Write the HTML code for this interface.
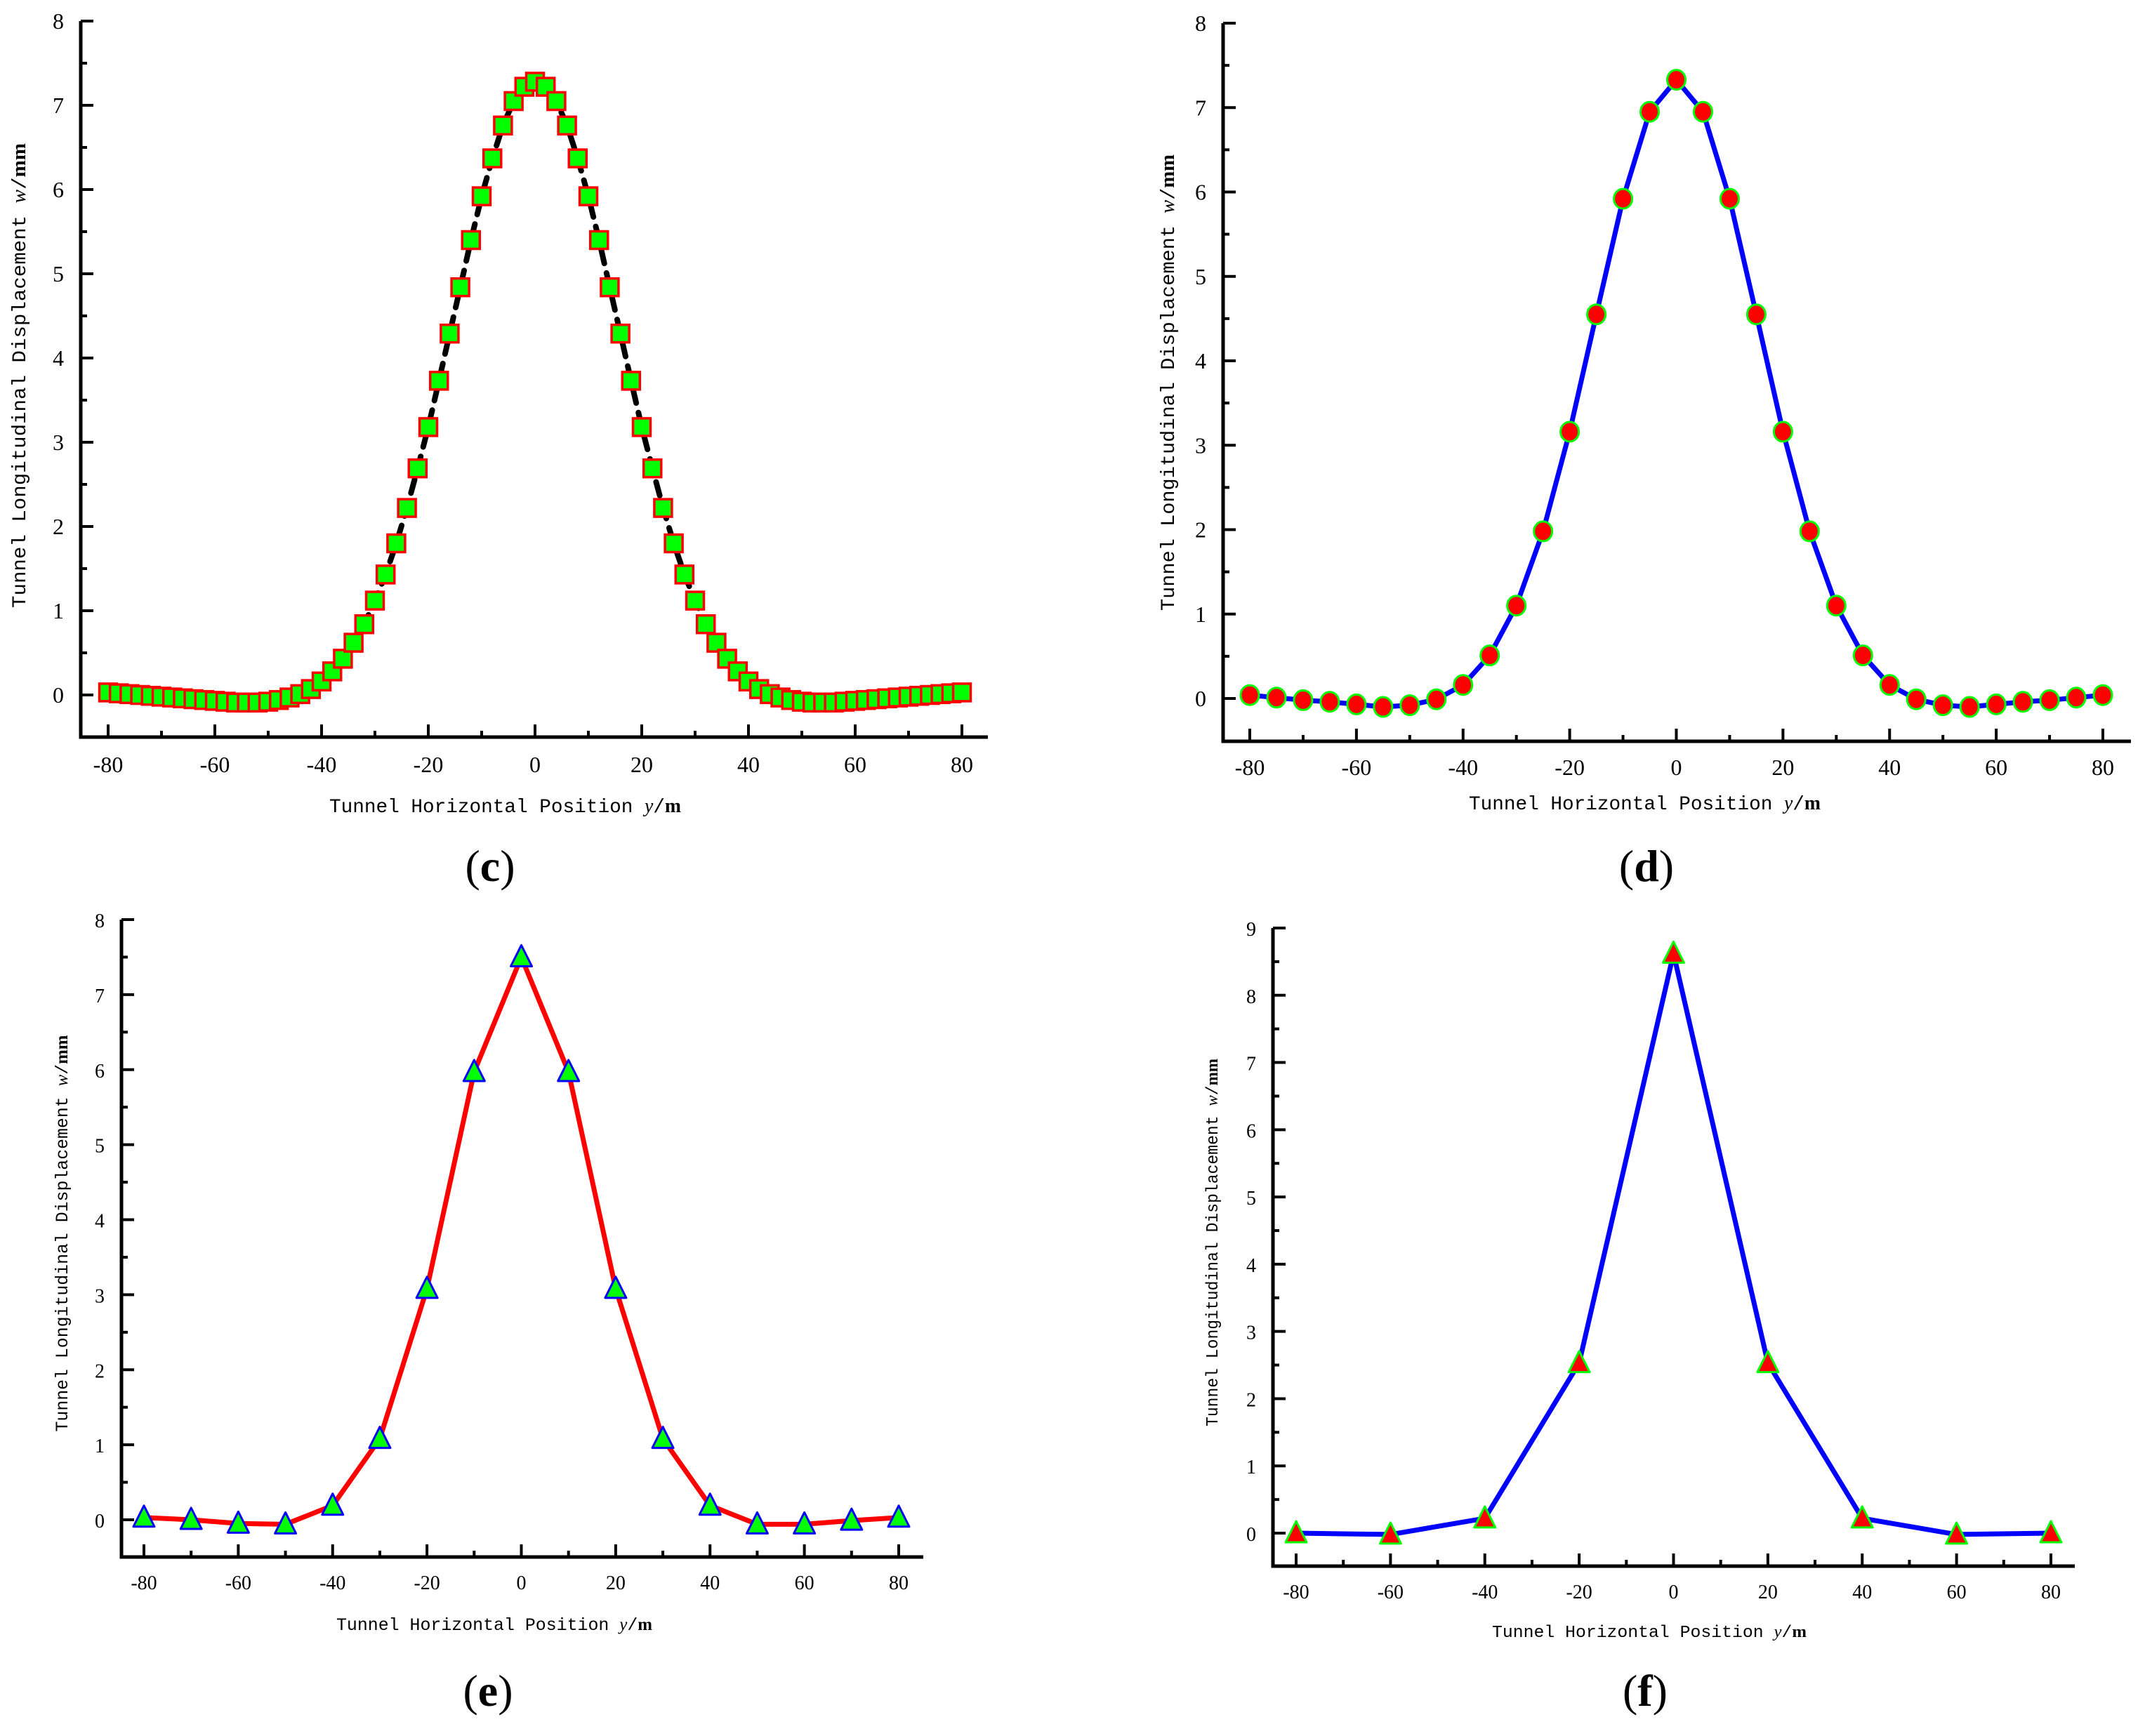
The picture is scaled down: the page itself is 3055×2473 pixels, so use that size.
<!DOCTYPE html>
<html><head><meta charset="utf-8"><style>
html,body{margin:0;padding:0;background:#fff;}
svg{display:block;}
</style></head><body>
<svg id="fig" xmlns="http://www.w3.org/2000/svg" width="3055" height="2473" viewBox="0 0 3055 2473">
<rect x="0" y="0" width="3055" height="2473" fill="#fff"/>
</svg>
<script>
// ---- data ----
const xC = [-80,-78,-76,-74,-72,-70,-68,-66,-64,-62,-60,-58,-56,-54,-52,-50,-48,-46,-44,-42,-40,-38,-36,-34,-32,-30,-28,-26,-24,-22,-20,-18,-16,-14,-12,-10,-8,-6,-4,-2,0,2,4,6,8,10,12,14,16,18,20,22,24,26,28,30,32,34,36,38,40,42,44,46,48,50,52,54,56,58,60,62,64,66,68,70,72,74,76,78,80];
const yC = [0.03,0.02,0.01,0.0,-0.01,-0.02,-0.03,-0.04,-0.05,-0.06,-0.07,-0.08,-0.09,-0.09,-0.09,-0.08,-0.06,-0.03,0.01,0.07,0.16,0.28,0.43,0.62,0.84,1.12,1.43,1.80,2.22,2.69,3.18,3.73,4.29,4.84,5.40,5.92,6.37,6.76,7.05,7.22,7.28,7.22,7.05,6.76,6.37,5.92,5.40,4.84,4.29,3.73,3.18,2.69,2.22,1.80,1.43,1.12,0.84,0.62,0.43,0.28,0.16,0.07,0.01,-0.03,-0.06,-0.08,-0.09,-0.09,-0.09,-0.08,-0.07,-0.06,-0.05,-0.04,-0.03,-0.02,-0.01,0.0,0.01,0.02,0.03];
const xD = [-80,-75,-70,-65,-60,-55,-50,-45,-40,-35,-30,-25,-20,-15,-10,-5,0,5,10,15,20,25,30,35,40,45,50,55,60,65,70,75,80];
const yD = [0.04,0.01,-0.02,-0.04,-0.07,-0.10,-0.08,-0.01,0.16,0.51,1.10,1.98,3.16,4.55,5.92,6.95,7.33,6.95,5.92,4.55,3.16,1.98,1.10,0.51,0.16,-0.01,-0.08,-0.10,-0.07,-0.04,-0.02,0.01,0.04];
const xE = [-80,-70,-60,-50,-40,-30,-20,-10,0,10,20,30,40,50,60,70,80];
const yE = [0.03,0.0,-0.05,-0.06,0.19,1.08,3.08,5.97,7.50,5.97,3.08,1.08,0.19,-0.06,-0.06,-0.01,0.03];
const xF = [-80,-60,-40,-20,0,20,40,60,80];
const yF = [0.0,-0.02,0.22,2.53,8.62,2.53,0.22,-0.02,0.0];
const xTicks = [-80,-60,-40,-20,0,20,40,60,80];
const yTicks8 = [0,1,2,3,4,5,6,7,8];
const yTicks9 = [0,1,2,3,4,5,6,7,8,9];

const NS = "http://www.w3.org/2000/svg";
const svg = document.getElementById('fig');
function el(tag, attrs, parent){
  const e = document.createElementNS(NS, tag);
  for (const k in attrs) e.setAttribute(k, attrs[k]);
  (parent||svg).appendChild(e);
  return e;
}

function panel(cfg){
  const g = el('g', {});
  
  
  const sx = v => cfg.x0 + (v + 80) * (cfg.x1 - cfg.x0) / 160;
  const sy = v => cfg.y0 + v * (cfg.y1 - cfg.y0) / cfg.ytop;
  const pts = cfg.xs.map((x,i)=> sx(x).toFixed(1)+','+sy(cfg.ys[i]).toFixed(1)).join(' ');
  const line = el('polyline', {points: pts, fill:'none', stroke: cfg.lineColor, 'stroke-width': cfg.lineW, 'stroke-linejoin':'round', 'stroke-linecap':'round'}, g);
  if (cfg.dash) line.setAttribute('stroke-dasharray', cfg.dash);
  
  
  cfg.xs.forEach((x,i)=>{
    const cx = sx(x), cy = sy(cfg.ys[i]);
    let m;
    if (cfg.marker === 'square') {
      m = el('rect', {x: cx-12.5, y: cy-12.5, width: 25, height: 25, fill:'#00ff00', stroke:'#ff0000', 'stroke-width':3.5}, g);
    } else if (cfg.marker === 'circle') {
      m = el('ellipse', {cx: cx, cy: cy, rx: 13, ry: 14, fill:'#ff0000', stroke:'#00ff00', 'stroke-width':3}, g);
    } else {
      const s = 15;
      m = el('polygon', {points: `${cx},${cy-s-2} ${cx-s},${cy+s-2} ${cx+s},${cy+s-2}`, fill: cfg.triFill, stroke: cfg.triStroke, 'stroke-width':3, 'stroke-linejoin':'round'}, g);
    }
    
    
  });
  const ax = el('path', {d:`M${cfg.ax},${cfg.top} V${cfg.bottom} H${cfg.right}`, fill:'none', stroke:'#000', 'stroke-width':5}, g);
  
  
  for (let v = -0.5; v <= cfg.ytop + 0.001; v += 0.5) {
    const y = sy(v);
    if (y > cfg.bottom - 2) continue;
    const major = Math.abs(v - Math.round(v)) < 0.01;
    el('line', {x1: cfg.ax, x2: cfg.ax + (major?18:9), y1: y, y2: y, stroke:'#000', 'stroke-width':4}, g);
  }
  cfg.yticks.forEach(v=>{
    const t = el('text', {x: cfg.ax - 24, y: sy(v) + 11, 'text-anchor':'end', 'font-family':'"Liberation Serif", serif', 'font-size': cfg.fs, fill:'#000'}, g);
    t.textContent = v;
    
    
  });
  for (let v = -80; v <= 80; v += 10) {
    const x = sx(v);
    const major = v % 20 === 0;
    el('line', {x1: x, x2: x, y1: cfg.bottom, y2: cfg.bottom - (major?18:9), stroke:'#000', 'stroke-width':4}, g);
  }
  xTicks.forEach(v=>{
    const t = el('text', {x: sx(v), y: cfg.bottom + cfg.xlabOff, 'text-anchor':'middle', 'font-family':'"Liberation Serif", serif', 'font-size': cfg.fs, fill:'#000'}, g);
    t.textContent = v;
    
    
  });
  const yt = el('text', {transform:`translate(${cfg.ytx},${cfg.ytMid}) rotate(-90)`, 'text-anchor':'middle', 'font-family':'"Liberation Mono", monospace', 'font-size': cfg.tfs, fill:'#000', textLength: cfg.ytLen, lengthAdjust:'spacingAndGlyphs'}, g);
  yt.innerHTML = 'Tunnel Longitudinal Displacement <tspan font-family="Liberation Serif, serif" font-style="italic">w</tspan>/<tspan font-family="Liberation Serif, serif" font-weight="bold">mm</tspan>';
  
  
  const xt = el('text', {x: cfg.xtx0, y: cfg.xty, 'font-family':'"Liberation Mono", monospace', 'font-size': cfg.tfs, fill:'#000', textLength: cfg.xtLen, lengthAdjust:'spacingAndGlyphs'}, g);
  xt.innerHTML = 'Tunnel Horizontal Position <tspan font-family="Liberation Serif, serif" font-style="italic">y</tspan>/<tspan font-family="Liberation Serif, serif" font-weight="bold">m</tspan>';
  
  
  const pl = el('text', {x: cfg.plx, y: cfg.ply, 'text-anchor':'middle', 'font-family':'"Liberation Serif", serif', 'font-size': 64, fill:'#000'}, g);
  pl.innerHTML = '(<tspan font-weight="bold">' + cfg.id + '</tspan>)';
  
  
}

panel({id:'c', xs:xC, ys:yC, x0:154, x1:1370, y0:990, y1:30, ytop:8, yticks:yTicks8,
  ax:115, top:30, bottom:1050, right:1407, marker:'square', lineColor:'#000', lineW:8, dash:'20 14',
  fs:32, tfs:28, xlabOff:50, ytx:36, ytMid:535, ytLen:662, xtx0:469, xty:1157, xtLen:501, plx:698, ply:1255});
panel({id:'d', xs:xD, ys:yD, x0:1780, x1:2995, y0:995, y1:33, ytop:8, yticks:yTicks8,
  ax:1742, top:33, bottom:1056, right:3035, marker:'circle', lineColor:'#0000ff', lineW:7,
  fs:32, tfs:28, xlabOff:48, ytx:1672, ytMid:545, ytLen:650, xtx0:2092, xty:1153, xtLen:501, plx:2345, ply:1255});
panel({id:'e', xs:xE, ys:yE, x0:205, x1:1280, y0:2165, y1:1310, ytop:8, yticks:yTicks8,
  ax:173, top:1310, bottom:2218, right:1315, marker:'tri', triFill:'#00ff00', triStroke:'#0000ff', lineColor:'#ff0000', lineW:7,
  fs:28, tfs:25, xlabOff:46, ytx:96, ytMid:1757, ytLen:565, xtx0:479, xty:2322, xtLen:450, plx:695, ply:2430});
panel({id:'f', xs:xF, ys:yF, x0:1846, x1:2921, y0:2184, y1:1322, ytop:9, yticks:yTicks9,
  ax:1813, top:1322, bottom:2231, right:2955, marker:'tri', triFill:'#ff0000', triStroke:'#00ff00', lineColor:'#0000ff', lineW:7,
  fs:28, tfs:24, xlabOff:46, ytx:1734, ytMid:1770, ytLen:524, xtx0:2125, xty:2332, xtLen:448, plx:2343, ply:2430});
</script>
</body></html>
